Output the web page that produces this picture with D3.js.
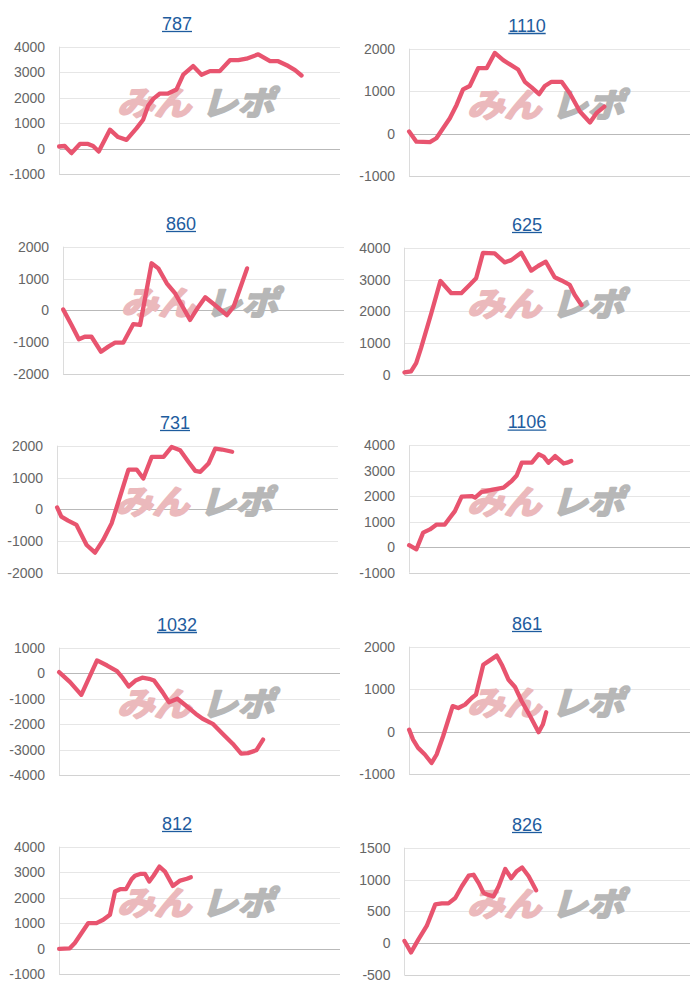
<!DOCTYPE html>
<html><head><meta charset="utf-8">
<script src="https://cdn.jsdelivr.net/npm/d3@7"></script>
<style>
html,body{margin:0;padding:0;background:#fff;}
svg{display:block;}
</style>
</head><body>
<script>
// ---- DATA ----
const titles = ["787","1110","860","625","731","1106","1032","861","812","826"];
const yMins = [-1000,-1000,-2000,0,-2000,-1000,-4000,-1000,-1000,-500];
const yMaxs = [4000,2000,2000,4000,2000,4000,1000,2000,4000,1500];
const ySteps = [1000,1000,1000,1000,1000,1000,1000,1000,1000,500];

const x787 = [0,2.0,4.4,7.4,10.3,12.1,14.1,18.1,21.0,24.0,27.6,29.9,31.7,33.5,35.9,38.8,41.8,44.2,47.7,50.7,53.7,57.2,60.8,63.8,66.7,70.9,75.1,78.0,81.6,84.0,86.3];
const v787 = [80,100,-180,180,180,100,-120,740,450,340,800,1130,1680,1950,2160,2160,2320,2900,3240,2900,3040,3040,3470,3470,3530,3700,3430,3430,3240,3080,2870];

const x1110 = [0,2.6,7.4,9.7,12.1,14.5,16.9,19.2,21.6,24.6,27.6,30.5,33.5,35.9,38.8,41.2,43.6,46.3,48.3,50.7,54.3,57.2,60.8,64.4,66.7,69.5];
const v1110 = [50,-190,-200,-110,125,360,675,1040,1120,1540,1540,1900,1730,1630,1510,1220,1090,930,1120,1220,1220,950,520,260,480,635];

const x860 = [0,3.0,5.6,7.7,10.1,13.5,16.1,18.5,21.4,25.0,27.4,31.5,33.9,36.9,39.9,45.2,48.2,50.6,53.6,58.3,60.7,65.5];
const v860 = [30,-460,-910,-830,-830,-1300,-1140,-1015,-1015,-430,-460,1480,1320,850,530,-300,115,410,200,-150,115,1320];

const x625 = [0,2.3,4.1,5.8,9.4,12.6,16.4,19.9,22.8,25.1,27.5,31.6,35.1,37.4,40.9,44.4,46.8,49.5,52.6,55.0,57.9,59.6,62.0];
const v625 = [80,115,375,845,1940,2955,2570,2570,2830,3040,3840,3820,3540,3610,3840,3280,3425,3560,3070,2970,2830,2520,2200];

const x731 = [0,1.5,3.9,6.9,10.5,13.5,16.4,19.4,22.4,25.4,28.3,30.7,33.7,37.9,40.8,43.8,46.8,49.2,51.0,53.9,56.3,58.7,62.3];
const v731 = [60,-230,-355,-490,-1120,-1360,-960,-440,400,1250,1250,970,1650,1650,1960,1860,1490,1210,1180,1440,1910,1880,1810];

const x1106 = [0,2.6,5.0,7.4,9.8,12.7,14.5,16.3,18.7,22.3,23.5,25.8,29.4,33.6,36.5,38.3,40.1,43.7,46.1,47.9,49.6,52.0,55.0,56.2,57.7];
const v1106 = [80,-80,575,700,890,890,1160,1420,1990,2010,1950,2170,2250,2340,2600,2820,3320,3320,3650,3560,3320,3580,3290,3320,3390];

const x1032 = [0,3.9,7.9,13.5,17.1,20.6,22.4,24.8,27.2,29.6,32.0,33.8,36.8,39.1,42.1,45.1,48.7,51.1,54.7,58.2,61.8,64.8,67.2,70.2,72.6];
const v1032 = [40,-350,-850,500,300,80,-155,-520,-290,-180,-220,-290,-745,-1140,-1005,-1270,-1600,-1790,-1990,-2380,-2770,-3160,-3140,-3030,-2610];

const x861 = [0,1.4,3.2,5.6,8.0,9.8,12.1,15.5,17.5,19.9,22.3,23.8,26.4,28.2,31.2,33.0,35.4,37.7,40.1,43.1,46.1,47.6,48.8];
const v861 = [45,-190,-385,-540,-740,-540,-110,600,555,635,790,870,1575,1655,1790,1575,1220,1050,715,360,-15,165,455];

const x812 = [0,3.8,5.6,8.0,10.4,13.3,15.7,18.1,19.9,21.7,23.8,25.8,27.0,28.8,30.6,32.1,33.6,35.7,37.7,40.5,43.1,45.5,46.9];
const v812 = [-10,10,220,610,1000,1000,1130,1330,2240,2330,2330,2720,2860,2930,2930,2630,2860,3220,3020,2460,2670,2740,2800];

const x826 = [0,2.3,4.9,7.8,10.8,13.1,15.4,17.8,20.1,22.5,24.2,26.0,27.7,28.9,31.2,33.0,35.3,37.4,39.2,41.2,43.5,46.1];
const v826 = [35,-145,60,270,610,625,625,710,895,1060,1075,945,790,765,735,895,1165,1020,1125,1190,1050,830];

const seriesX = [x787,x1110,x860,x625,x731,x1106,x1032,x861,x812,x826];
const seriesV = [v787,v1110,v860,v625,v731,v1106,v1032,v861,v812,v826];

// ---- LAYOUT ----
const W = 700, H = 1000;
const panelDx = [0,0,4,0,-2,0,0,0,0,0];
const panelDy = [0,2,0,1,-1,-1.3,1,0,0,1];
const lineColor = "#e8546f";
const fontLabel = "'Liberation Sans', Arial, sans-serif";
const fontWm = "'Noto Sans CJK JP', 'Noto Sans CJK SC', sans-serif";

const svg = d3.select("body").append("svg").attr("width", W).attr("height", H);

// helper to measure text width
const meas = svg.append("text").attr("font-family", fontLabel).attr("font-size", 14).attr("x", -1000).attr("y", -1000);
function tw(s){ meas.text(s); return meas.node().getComputedTextLength(); }

titles.forEach((t, i) => {
  const col = i % 2, row = Math.floor(i / 2);
  const ox = col * 350 + panelDx[i];
  const oy = row * 200 + panelDy[i];
  const g = svg.append("g");

  const ticks = d3.range(yMins[i], yMaxs[i] + 1, ySteps[i]);
  const maxW = d3.max(ticks, d => tw(String(d)));
  const left = ox + 9.3 + maxW + 14;
  const right = ox + 340;
  const top = oy + 46.7, bottom = oy + 174;

  const x = d3.scaleLinear().domain([0, 100]).range([left, right]);
  const y = d3.scaleLinear().domain([yMins[i], yMaxs[i]]).range([bottom, top]);

  // title
  const tt = g.append("text")
    .attr("x", ox + 177).attr("y", oy + 29.5)
    .attr("text-anchor", "middle")
    .attr("font-family", fontLabel).attr("font-size", 18)
    .attr("fill", "#1e5c9e").text(t);
  const bb = tt.node().getBBox();
  g.append("line").attr("x1", bb.x).attr("x2", bb.x + bb.width)
    .attr("y1", oy + 31.5).attr("y2", oy + 31.5)
    .attr("stroke", "#1e5c9e").attr("stroke-width", 1.3);

  // gridlines
  g.selectAll("line.grid").data(ticks).enter().append("line")
    .attr("x1", left).attr("x2", right)
    .attr("y1", d => Math.round(y(d)) + 0.5).attr("y2", d => Math.round(y(d)) + 0.5)
    .attr("stroke", d => d === 0 ? "#b9b9b9" : (d === yMins[i] ? "#d2d2d2" : "#e6e6e6"))
    .attr("stroke-width", 1);
  // left axis line
  g.append("line").attr("x1", Math.round(left) + 0.5).attr("x2", Math.round(left) + 0.5)
    .attr("y1", top).attr("y2", bottom).attr("stroke", "#dcdcdc");

  // tick labels via d3 axis
  const ax = d3.axisLeft(y).tickValues(ticks).tickSize(0).tickPadding(14).tickFormat(d => String(d));
  const axg = g.append("g").attr("transform", `translate(${left},0)`).call(ax);
  axg.select(".domain").remove();
  axg.selectAll("text").attr("font-family", fontLabel).attr("font-size", 14).attr("fill", "#666");

  // watermark
  const wm = g.append("g").attr("transform", `translate(${ox + 117},${oy + 115}) skewX(-16)`);
  wm.append("text").attr("x", 0).attr("y", 0)
    .attr("font-family", fontWm).attr("font-weight", "bold")
    .attr("font-size", 33).attr("textLength", 74).attr("lengthAdjust", "spacingAndGlyphs")
    .attr("fill", "#ebb9bc").attr("stroke", "#ebb9bc").attr("stroke-width", 2.2)
    .attr("stroke-linejoin", "round").text("みん");
  wm.append("text").attr("x", 84).attr("y", 0)
    .attr("font-family", fontWm).attr("font-weight", "bold")
    .attr("font-size", 33).attr("textLength", 73).attr("lengthAdjust", "spacingAndGlyphs")
    .attr("fill", "#b7b7b7").attr("stroke", "#b7b7b7").attr("stroke-width", 2.2)
    .attr("stroke-linejoin", "round").text("レポ");

  // line
  const pts = seriesX[i].map((xv, k) => [xv, seriesV[i][k]]);
  const line = d3.line().x(d => x(d[0])).y(d => y(d[1]));
  g.append("path").datum(pts).attr("d", line)
    .attr("fill", "none").attr("stroke", lineColor).attr("stroke-width", 4.3)
    .attr("stroke-linejoin", "round").attr("stroke-linecap", "round");
});
meas.remove();
</script>
</body></html>
